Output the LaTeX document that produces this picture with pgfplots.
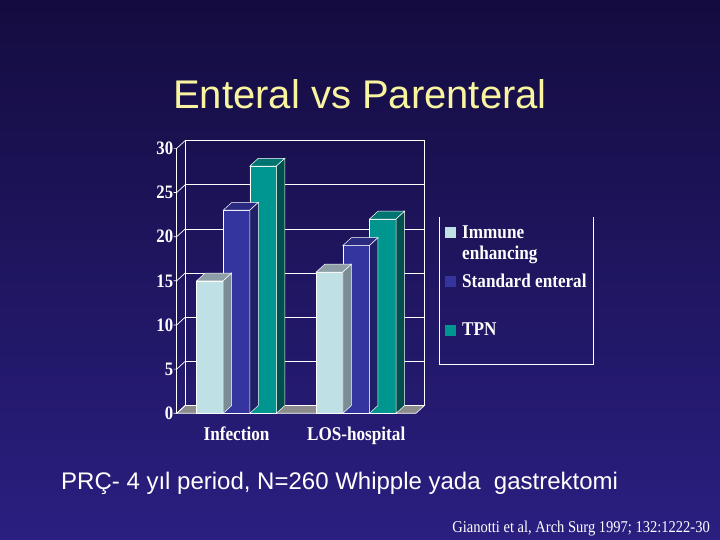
\documentclass[border=0pt]{standalone}
\usepackage{fontspec}
\setmainfont{Liberation Sans}
\newfontfamily\chartfont[FakeStretch=0.88]{Liberation Serif}
\usepackage{pgfplots}
\usepackage{pgfplotstable}
\pgfplotsset{compat=1.18}

\definecolor{bgtop}{HTML}{140C40}
\definecolor{bgbot}{HTML}{2A1F80}
\definecolor{titlecol}{HTML}{F8F4A0}
\definecolor{immF}{HTML}{BFE0E4}
\definecolor{immT}{HTML}{8E9EA6}
\definecolor{immS}{HTML}{7A8C94}
\definecolor{stdF}{HTML}{3535A0}
\definecolor{stdT}{HTML}{2A2A80}
\definecolor{stdS}{HTML}{202066}
\definecolor{tpnF}{HTML}{009690}
\definecolor{tpnT}{HTML}{007470}
\definecolor{tpnS}{HTML}{004E4E}
\definecolor{floorc}{HTML}{8C8C8C}

\def\dX{8.5pt}
\def\dY{7.8pt}
\def\bw{26.6}

\pgfplotstableread{
x imm std tpn
0 15 23 28
1 16 19 22
}\datatable

\newcommand\declareprism[4]{%
  \pgfdeclareplotmark{#1}{%
    \pgfmathsetlengthmacro\prismh{\rawy*8.83pt}%
    \fill[#3,draw=white,line width=0.5pt] (#2pt,0pt) -- ++(\dX,\dY) -- ++(\bw pt,0pt) -- ++(-\dX,-\dY) -- cycle;
    \fill[#4,draw=white,line width=0.5pt] (#2pt+\bw pt,0pt) -- ++(\dX,\dY) -- ++(0pt,-\prismh) -- ++(-\dX,-\dY) -- cycle;
  }}
\declareprism{prismA}{-39.9}{immT}{immS}
\declareprism{prismB}{-13.3}{stdT}{stdS}
\declareprism{prismC}{13.3}{tpnT}{tpnS}

\begin{document}
\begin{tikzpicture}
\shade[top color=bgtop, bottom color=bgbot] (0pt,0pt) rectangle (720pt,540pt);

\node[anchor=base, inner sep=0pt, text=titlecol, font=\fontsize{40}{40}\selectfont] at (360pt,431pt) {Enteral vs Parenteral};

\begin{axis}[
  at={(176.7pt,126.7pt)}, anchor=south west,
  x=119.65pt, y=8.83pt,
  xmin=-0.5, xmax=1.5, ymin=0, ymax=30,
  clip=false,
  axis line style={draw=none},
  major tick length=0pt,
  xtick={0,1}, xticklabels={Infection,LOS-hospital},
  ytick={0,5,...,30},
  /pgf/number format/assume math mode=true,
  xticklabel style={text=white, font=\chartfont\bfseries\fontsize{19.5}{20}\selectfont, anchor=base, yshift=-27.7pt},
  yticklabel style={text=white, font=\chartfont\bfseries\fontsize{19}{20}\selectfont},
]
% floor
\fill[floorc, draw=white, line width=0.6pt] (axis cs:-0.5,0) -- ([shift={(\dX,\dY)}]axis cs:-0.5,0) -- ([shift={(\dX,\dY)}]axis cs:1.5,0) -- (axis cs:1.5,0) -- cycle;
% back wall and left side
\pgfplotsinvokeforeach{0,5,...,30}{
  \draw[white, line width=0.7pt] ([shift={(\dX,\dY)}]axis cs:-0.5,#1) -- ([shift={(\dX,\dY)}]axis cs:1.5,#1);
  \draw[white, line width=0.7pt] ([xshift=-3pt]axis cs:-0.5,#1) -- (axis cs:-0.5,#1) -- ([shift={(\dX,\dY)}]axis cs:-0.5,#1);
}
\draw[white, line width=0.7pt] ([shift={(\dX,\dY)}]axis cs:-0.5,0) -- ([shift={(\dX,\dY)}]axis cs:-0.5,30);
\draw[white, line width=0.7pt] ([shift={(\dX,\dY)}]axis cs:1.5,0) -- ([shift={(\dX,\dY)}]axis cs:1.5,30);
\draw[white, line width=0.7pt] (axis cs:-0.5,0) -- (axis cs:-0.5,30);

% Immune enhancing
\addplot[ybar, bar width=26.6pt, bar shift=-26.6pt, fill=immF, draw=white, line width=0.5pt] table[x=x,y=imm]{\datatable};
\addplot[forget plot, only marks, scatter, mark=prismA, visualization depends on={rawy \as \rawy}] table[x=x,y=imm]{\datatable};
% Standard enteral
\addplot[ybar, bar width=26.6pt, bar shift=0pt, fill=stdF, draw=white, line width=0.5pt] table[x=x,y=std]{\datatable};
\addplot[forget plot, only marks, scatter, mark=prismB, visualization depends on={rawy \as \rawy}] table[x=x,y=std]{\datatable};
% TPN
\addplot[ybar, bar width=26.6pt, bar shift=26.6pt, fill=tpnF, draw=white, line width=0.5pt] table[x=x,y=tpn]{\datatable};
\addplot[forget plot, only marks, scatter, mark=prismC, visualization depends on={rawy \as \rawy}] table[x=x,y=tpn]{\datatable};
\end{axis}

% legend
\draw[white, line width=0.7pt] (439.3pt,323pt) -- (439.3pt,176pt) -- (593pt,176pt) -- (593pt,323pt);
\fill[immF] (445pt,302pt) rectangle (456pt,313pt);
\fill[stdF] (445pt,252.7pt) rectangle (456pt,263.7pt);
\fill[tpnF] (445pt,204pt) rectangle (456pt,215pt);
\begin{scope}[every node/.style={anchor=base west, inner sep=0pt, text=white, font=\chartfont\bfseries\fontsize{19.5}{22}\selectfont}]
\node at (462pt,301.7pt) {Immune};
\node at (462pt,280pt) {enhancing};
\node at (462pt,252.7pt) {Standard enteral};
\node at (462pt,204pt) {TPN};
\end{scope}

\node[anchor=base west, inner sep=0pt, text=white, font=\fontsize{24}{24}\selectfont] at (61pt,50pt) {PRÇ- 4 yıl period, N=260 Whipple yada\ \ gastrektomi};
\node[anchor=base east, inner sep=0pt, text=white, font=\chartfont\fontsize{16.5}{16.5}\selectfont] at (710pt,7pt) {Gianotti et al, Arch Surg 1997; 132:1222-30};
\end{tikzpicture}
\end{document}
